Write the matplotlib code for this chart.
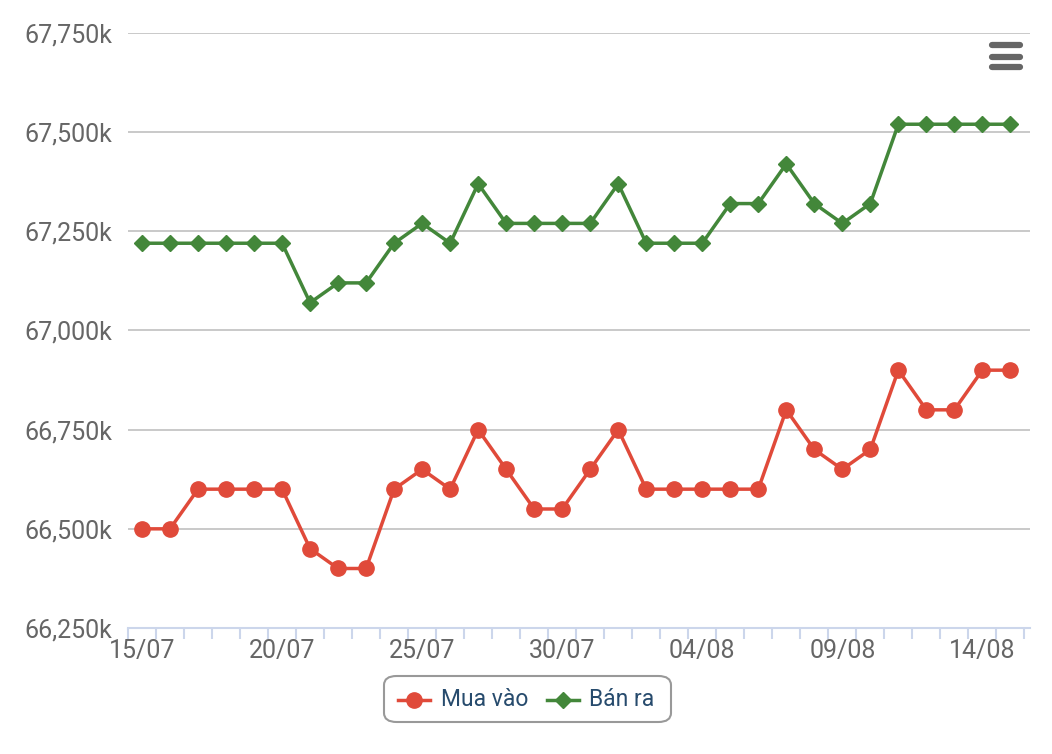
import matplotlib.pyplot as plt
from matplotlib.lines import Line2D
from matplotlib.patches import FancyBboxPatch
from matplotlib.ticker import FuncFormatter, MultipleLocator
import numpy as np

plt.rcParams['font.family'] = ['Roboto', 'DejaVu Sans']

# Dates from 15/07 to 15/08
dates = ["15/07", "16/07", "17/07", "18/07", "19/07", "20/07", "21/07", "22/07",
         "23/07", "24/07", "25/07", "26/07", "27/07", "28/07", "29/07", "30/07",
         "31/07", "01/08", "02/08", "03/08", "04/08", "05/08", "06/08", "07/08",
         "08/08", "09/08", "10/08", "11/08", "12/08", "13/08", "14/08", "15/08"]

# Buying price (thousand VND)
mua_vao = [66500, 66500, 66600, 66600, 66600, 66600, 66450, 66400,
           66400, 66600, 66650, 66600, 66750, 66650, 66550, 66550,
           66650, 66750, 66600, 66600, 66600, 66600, 66600, 66800,
           66700, 66650, 66700, 66900, 66800, 66800, 66900, 66900]

# Selling price (thousand VND)
ban_ra = [67220, 67220, 67220, 67220, 67220, 67220, 67070, 67120,
          67120, 67220, 67270, 67220, 67370, 67270, 67270, 67270,
          67270, 67370, 67220, 67220, 67220, 67320, 67320, 67420,
          67320, 67270, 67320, 67520, 67520, 67520, 67520, 67520]

red = "#e04a3a"
green = "#43873a"

fig = plt.figure(figsize=(10.52, 7.54), dpi=100)
W, H = 1052, 754
ax = fig.add_axes([128 / W, (H - 628) / H, (1030 - 128) / W, (628 - 33) / H])

x = np.arange(len(dates))
ax.plot(x, mua_vao, color=red, lw=2.5, marker="o", ms=11, label="Mua vào",
        zorder=3)
ax.plot(x, ban_ra, color=green, lw=2.5, marker="D", ms=8.5, label="Bán ra",
        zorder=3)

ax.set_ylim(66250, 67750)
ax.set_xlim(-0.5, 31.7)
ax.yaxis.set_major_locator(MultipleLocator(250))
ax.yaxis.set_major_formatter(FuncFormatter(lambda v, p: "{:,.0f}k".format(v)))
ax.grid(axis="y", color="#c0c0c0", lw=1.2)
ax.set_axisbelow(True)

label_idx = list(range(0, len(dates), 5))
ax.set_xticks(label_idx)
ax.set_xticklabels([dates[i] for i in label_idx])
ax.set_xticks(np.arange(-0.5, len(dates) - 0.4, 1), minor=True)
ax.tick_params(axis="x", which="major", length=0, pad=8, labelsize=18,
               labelcolor="#666666")
ax.tick_params(axis="x", which="minor", length=8, width=1.5, color="#ccd6eb")
ax.tick_params(axis="y", length=0, pad=11, labelsize=18, labelcolor="#666666")

for s in ["top", "right", "left"]:
    ax.spines[s].set_visible(False)
ax.spines["bottom"].set_color("#ccd6eb")
ax.spines["bottom"].set_linewidth(1.5)

# Legend with rounded frame
fig.patches.append(FancyBboxPatch((384 / W, (H - 722) / H), 287 / W, 46 / H,
                                  boxstyle="round,pad=0,rounding_size=0.012",
                                  transform=fig.transFigure, fc="white",
                                  ec="#999999", lw=1.5))
ly = (H - 700) / H
fig.add_artist(Line2D([398 / W, 414 / W, 430 / W], [ly, ly, ly], color=red,
                      lw=2.5, marker="o", ms=11, markevery=[1],
                      transform=fig.transFigure))
fig.text(441 / W, ly, "Mua vào", fontsize=16.5, color="#274b6d", va="center")
fig.add_artist(Line2D([547 / W, 563 / W, 579 / W], [ly, ly, ly], color=green,
                      lw=2.5, marker="D", ms=8.5, markevery=[1],
                      transform=fig.transFigure))
fig.text(589 / W, ly, "Bán ra", fontsize=16.5, color="#274b6d", va="center")

# Menu icon
for yy in [45, 57, 67]:
    fig.add_artist(Line2D([992 / W, 1020 / W], [(H - yy) / H] * 2,
                          color="#666666", lw=4.5, solid_capstyle="round",
                          transform=fig.transFigure))

fig.savefig("out.png", dpi=100)
